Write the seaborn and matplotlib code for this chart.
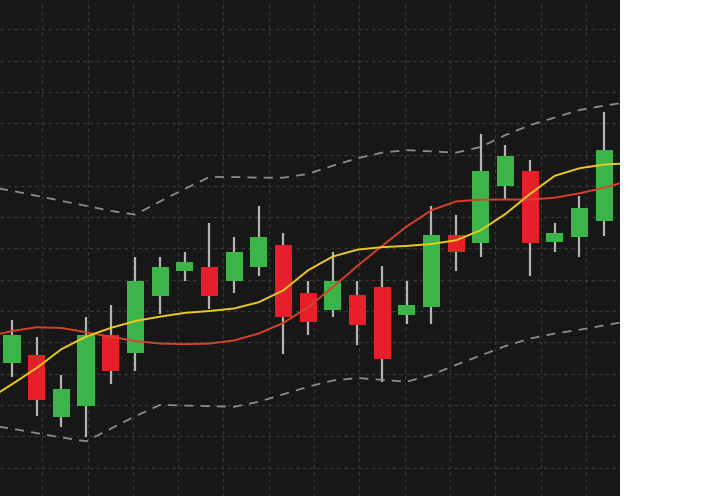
import numpy as np
import pandas as pd
import matplotlib
matplotlib.use("Agg")
import matplotlib.pyplot as plt
import seaborn as sns

# candle data (25 periods)
opens = [26.7, 27.9, 18.0, 19.8, 31.2, 28.3, 37.4, 41.4, 42.1, 39.8, 42.1, 45.5, 37.8,
         35.2, 37.5, 38.9, 34.4, 35.7, 47.1, 45.9, 55.0, 57.4, 46.0, 46.8, 49.3]
highs = [33.6, 30.8, 24.7, 34.1, 35.9, 43.6, 43.6, 44.5, 49.1, 46.8, 51.7, 47.5, 39.8,
         44.5, 39.8, 42.2, 39.8, 51.7, 50.3, 63.2, 61.5, 59.1, 49.0, 53.3, 66.8]
lows = [24.4, 18.3, 16.4, 14.9, 23.3, 25.4, 34.5, 39.8, 35.3, 37.8, 40.6, 28.2, 31.1,
        34.1, 29.5, 23.6, 32.9, 32.9, 41.4, 43.7, 52.9, 40.6, 44.4, 43.6, 47.0]
closes = [31.2, 20.8, 22.6, 31.2, 25.4, 39.8, 42.1, 42.9, 37.4, 44.5, 46.8, 34.1, 33.2,
          39.8, 32.8, 27.4, 35.9, 47.1, 44.4, 57.4, 59.7, 45.9, 47.5, 51.4, 60.7]

# indicator lines, one value per period from -1 to 25 (they run past the edges)
ma_yellow = [20.8, 23.3, 25.9, 28.9, 30.9, 32.3, 33.4, 34.1, 34.7, 35.0, 35.4, 36.4, 38.3, 41.5,
             43.7, 44.8, 45.2, 45.4, 45.7, 46.3, 47.9, 50.5, 53.7, 56.6, 57.8, 58.4, 58.6]
ma_red = [30.9, 31.8, 32.4, 32.3, 31.6, 30.9, 30.2, 29.8, 29.7, 29.8, 30.3, 31.4, 33.1, 35.6,
          38.8, 42.2, 45.4, 48.5, 51.1, 52.5, 52.8, 52.8, 52.8, 53.1, 53.8, 54.7, 55.8]
band_upper = [54.9, 54.2, 53.4, 52.6, 51.8, 51.0, 50.4, 52.5, 54.5, 56.4, 56.4, 56.3, 56.3, 56.9,
              58.2, 59.4, 60.3, 60.7, 60.5, 60.3, 61.2, 63.1, 64.7, 65.9, 67.1, 67.8, 68.4]
band_lower = [16.8, 16.2, 15.5, 14.8, 14.2, 16.2, 18.2, 20.0, 19.9, 19.8, 19.7, 20.5, 21.7, 22.9,
              23.9, 24.3, 24.0, 23.7, 24.8, 26.4, 27.9, 29.4, 30.6, 31.4, 32.0, 32.7, 33.4]

candles = pd.DataFrame({"open": opens, "high": highs, "low": lows, "close": closes})
candles["t"] = np.arange(len(candles))
lines = pd.DataFrame({"t": np.arange(-1, len(candles) + 1), "yellow": ma_yellow,
                      "red": ma_red, "upper": band_upper, "lower": band_lower})

sns.set_theme(style="dark")
bg = "#171717"
up_col, down_col = "#3bb54a", "#e61f2a"

fig = plt.figure(figsize=(7.2, 4.96), dpi=100, facecolor="white")
ax = fig.add_axes([0, 0, 620 / 720, 1])
ax.set_facecolor(bg)

# grid
ax.set_xticks(np.arange(1.228, 25, 1.836))
ax.set_yticks(np.arange(10, 81, 5))
ax.grid(True, color="#363636", linestyle=(0, (3, 2.5)), linewidth=0.9)
ax.set_axisbelow(True)

# candles
is_up = candles["close"] >= candles["open"]
colors = np.where(is_up, up_col, down_col)
ax.vlines(candles["t"], candles["low"], candles["high"], color="#b4b4b4", linewidth=1.6, zorder=2)
ax.bar(candles["t"], (candles["close"] - candles["open"]).abs(),
       bottom=candles[["open", "close"]].min(axis=1), width=0.69, color=colors,
       edgecolor="none", linewidth=0, zorder=3)

# bands and moving averages
for col in ["upper", "lower"]:
    sns.lineplot(data=lines, x="t", y=col, ax=ax, color="#8c8c8c", linewidth=1.3,
                 linestyle=(0, (5, 4)), zorder=4)
sns.lineplot(data=lines, x="t", y="red", ax=ax, color="#d8402c", linewidth=1.4, zorder=5)
sns.lineplot(data=lines, x="t", y="yellow", ax=ax, color="#ecc820", linewidth=1.4, zorder=6)

ax.set_xlim(-0.486, 24.645)
ax.set_ylim(5.45, 84.68)
ax.set_xlabel("")
ax.set_ylabel("")
ax.tick_params(length=0, labelbottom=False, labelleft=False)
for s in ax.spines.values():
    s.set_visible(False)

fig.savefig("out.png", dpi=100, facecolor="white")
